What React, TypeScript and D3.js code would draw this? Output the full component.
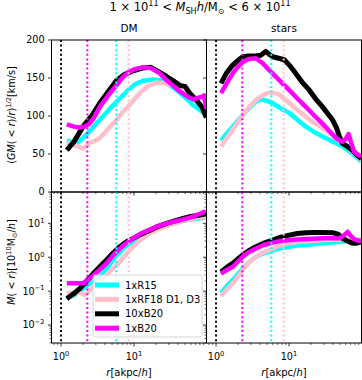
import React from "react";
import * as d3 from "d3";

const W = 362;
const H = 380;
const FONT = "DejaVu Sans, Verdana, sans-serif";

// radii of the dotted reference lines (akpc/h)
const refRadii = [1.0, 2.29, 5.72, 8.45];
const refColors = ["black", "magenta", "cyan", "pink"];

const seriesNames = ["1xR15", "1xRF18 D1, D3", "10xB20", "1xB20"];
const seriesColors = ["cyan", "pink", "black", "magenta"];

// circular velocity, DM  [r, v]
const vcDmR15 = [[1.2, 68], [1.4, 66], [1.65, 64], [2.0, 71], [2.3, 77], [2.8, 86], [3.4, 95], [4.5, 108], [5.8, 119], [7.0, 127], [8.5, 135], [10.5, 142], [13, 146], [18, 148], [23, 147], [28, 143], [35, 137], [43, 130], [55, 121], [65, 114], [80, 108], [98, 101]];
const vcDmRF18 = [[1.2, 65], [1.5, 62], [1.8, 59], [2.0, 57], [2.2, 60], [2.5, 65], [3.0, 68], [3.4, 71], [4.5, 84], [5.8, 95], [7.0, 105], [8.8, 115], [10.5, 124], [12.5, 132], [16, 140], [20, 144], [26, 143], [34, 140], [43, 135], [53, 130], [65, 123], [80, 116], [98, 106]];
const vcDmB20x10 = [[1.2, 55], [1.5, 66], [2.0, 86], [2.7, 102], [3.4, 117], [4.5, 133], [5.8, 147], [7.5, 155], [9.5, 159], [13, 163], [17, 164], [22, 158], [28, 152], [35, 146], [43, 140], [50, 139], [58, 130], [70, 122], [85, 112], [98, 98]];
const vcDmB20 = [[1.2, 89], [1.5, 86], [1.8, 85], [2.1, 86], [2.4, 89], [2.8, 97], [3.4, 112], [4.5, 128], [5.8, 141], [7.0, 151], [8.5, 158], [10.5, 162], [13, 164], [17, 163], [22, 157], [28, 147], [35, 139], [43, 132], [55, 125], [65, 122], [75, 124], [85, 125], [91, 127], [98, 110]];

// circular velocity, stars
const vcStR15 = [[1.17, 68], [1.4, 77], [1.69, 86], [2.0, 94], [2.32, 101], [2.8, 110], [3.5, 119], [4.1, 122], [5.0, 120], [6.0, 117], [7.4, 111], [10.1, 104], [13, 95], [17, 86], [22, 79], [28.8, 73], [40, 66], [54, 60], [75, 50], [98, 40]];
const vcStRF18 = [[1.17, 60], [1.4, 71], [1.69, 82], [2.0, 92], [2.32, 101], [2.8, 111], [3.5, 121], [4.3, 127], [5.4, 131], [6.4, 130], [7.4, 128], [10.1, 117], [13, 108], [17, 99], [22, 91], [28.8, 84], [40, 74], [54, 64], [75, 53], [98, 42]];
const vcStB20x10 = [[1.17, 143], [1.4, 157], [1.69, 167], [2.0, 173], [2.32, 178], [2.8, 179], [3.5, 179], [4.1, 180], [4.8, 185], [5.4, 181], [6.0, 178], [7.2, 176], [8.6, 174], [10.3, 166], [12.4, 156], [15, 145], [19, 134], [23, 123], [28.8, 112], [34, 103], [39.5, 95], [45, 84], [49, 73], [54, 64], [63, 60], [74, 55], [85, 49], [98, 44]];
const vcStB20 = [[1.17, 130], [1.4, 143], [1.69, 156], [2.0, 165], [2.32, 171], [2.8, 175], [3.5, 176], [4.3, 170], [5.4, 160], [7.4, 147], [10.1, 134], [13, 123], [17, 112], [22, 101], [28.8, 90], [36, 80], [44, 71], [54, 66], [60, 70], [65.6, 76], [72, 63], [78, 53], [88, 49], [98, 47]];

// enclosed mass, DM
const mDmR15 = [[1.2, 0.08], [1.5, 0.075], [1.8, 0.1], [2.3, 0.15], [2.8, 0.2], [3.42, 0.27], [4.5, 0.55], [5.8, 1.16], [7.5, 2.0], [9.75, 2.9], [12.5, 4.1], [16.6, 5.6], [21, 7.2], [28, 8.9], [37, 10.5], [47, 11.9], [60, 13], [80, 14], [98, 15]];
const mDmRF18 = [[1.2, 0.087], [1.5, 0.09], [1.82, 0.09], [2.13, 0.077], [2.4, 0.1], [2.77, 0.13], [3.4, 0.19], [4.2, 0.3], [5.2, 0.47], [6.4, 0.74], [8, 1.3], [9.75, 2.05], [12.5, 3.3], [16.6, 5.07], [21, 6.5], [28, 8.3], [37, 10], [47, 11.9], [60, 13.3], [80, 15], [98, 16]];
const mDmB20x10 = [[1.2, 0.06], [1.5, 0.085], [1.82, 0.12], [2.2, 0.19], [2.77, 0.33], [3.4, 0.52], [4.2, 0.83], [5.2, 1.35], [6.4, 2.05], [8, 2.9], [9.75, 3.6], [12.5, 4.8], [16.6, 6.3], [21, 8], [28, 10], [37, 12], [47, 14], [60, 16], [80, 17.6], [98, 19]];
const mDmB20 = [[1.2, 0.17], [1.6, 0.17], [2.0, 0.17], [2.5, 0.24], [3.2, 0.38], [4.2, 0.66], [5.2, 1.15], [6.4, 1.8], [8, 2.7], [9.75, 3.6], [12.5, 5], [16.6, 6.5], [21, 8.2], [28, 10], [37, 11.5], [47, 13], [60, 15], [75, 18], [91, 22], [98, 20]];

// enclosed mass, stars
const mStR15 = [[1.17, 0.09], [1.4, 0.14], [1.69, 0.21], [2.0, 0.32], [2.32, 0.47], [2.8, 0.7], [3.53, 1.03], [4.5, 1.3], [5.97, 1.6], [7.7, 1.85], [10.1, 2.05], [13, 2.2], [17.1, 2.3], [28.8, 2.6], [54, 2.9], [98, 2.9]];
const mStRF18 = [[1.17, 0.072], [1.4, 0.11], [1.69, 0.17], [2.0, 0.27], [2.32, 0.42], [2.8, 0.7], [3.53, 1.03], [4.5, 1.4], [5.97, 1.8], [7.7, 2.3], [10.1, 2.6], [13, 2.8], [17.1, 2.9], [28.8, 3.2], [54, 3.35], [98, 3.35]];
const mStB20x10 = [[1.17, 0.37], [1.4, 0.5], [1.69, 0.66], [2.0, 0.9], [2.32, 1.16], [2.8, 1.55], [3.53, 2.05], [4.5, 2.6], [5.97, 3.2], [7.7, 3.9], [10.1, 4.5], [13, 5.0], [17.1, 5.3], [22, 5.4], [28.8, 5.4], [39.5, 5.3], [47, 4.8], [54, 3.6], [63, 3.0], [74, 2.6], [85, 2.6], [98, 2.9]];
const mStB20 = [[1.17, 0.33], [1.4, 0.42], [1.69, 0.52], [2.0, 0.75], [2.32, 1.03], [2.8, 1.4], [3.53, 1.8], [4.5, 2.3], [5.97, 2.7], [7.7, 3.0], [10.1, 3.2], [13, 3.35], [17.1, 3.45], [28.8, 3.6], [49, 3.6], [55, 4.2], [63.5, 5.6], [70, 4.3], [78, 3.4], [88, 3.1], [98, 3.0]];

const xMajor = [1, 10];
const xExp = ["0", "1"];
const xMinor = [0.8, 0.9, 2, 3, 4, 5, 6, 7, 8, 9, 20, 30, 40, 50, 60, 70, 80, 90];
const vTicks = [0, 50, 100, 150, 200];
const mMajor = [0.01, 0.1, 1, 10];
const mExp = ["\u22122", "\u22121", "0", "1"];
const mMinor = [0.003, 0.004, 0.005, 0.006, 0.007, 0.008, 0.009, 0.02, 0.03, 0.04, 0.05, 0.06, 0.07, 0.08, 0.09, 0.2, 0.3, 0.4, 0.5, 0.6, 0.7, 0.8, 0.9, 2, 3, 4, 5, 6, 7, 8, 9, 20, 30, 40, 50, 60, 70, 80];

const colX = [[51.5, 206.5], [206.5, 361.5]];
const topY = [40, 192];
const botY = [192, 343];

const xScales = colX.map((r) => d3.scaleLog().domain([0.74, 98.5]).range(r));
const yTop = d3.scaleLinear().domain([0, 200]).range([topY[1], topY[0]]);
const yBot = d3.scaleLog().domain([0.00295, 84]).range([botY[1], botY[0]]);

const panels = [
  { col: 0, row: 0, data: [vcDmR15, vcDmRF18, vcDmB20x10, vcDmB20] },
  { col: 1, row: 0, data: [vcStR15, vcStRF18, vcStB20x10, vcStB20] },
  { col: 0, row: 1, data: [mDmR15, mDmRF18, mDmB20x10, mDmB20] },
  { col: 1, row: 1, data: [mStR15, mStRF18, mStB20x10, mStB20] },
];

// rich text: segments of [text, kind] where kind: "" normal, "i" italic, "^" sup, "_" sub
type Seg = [string, string?];
const Rich = ({ segs, size }: { segs: Seg[]; size: number }) => {
  let shift = 0;
  return (
    <>
      {segs.map(([t, k = ""], i) => {
        const target = k === "^" ? -0.42 * size : k === "_" ? 0.25 * size : 0;
        const dy = target - shift;
        shift = target;
        return (
          <tspan
            key={i}
            dy={dy || undefined}
            fontSize={k === "^" || k === "_" ? size * 0.7 : undefined}
            fontStyle={k === "i" ? "italic" : undefined}
          >
            {t}
          </tspan>
        );
      })}
    </>
  );
};

const Panel = ({ col, row, data }: any) => {
  const x = xScales[col];
  const y = row === 0 ? yTop : yBot;
  const [x0, x1] = colX[col];
  const [y0, y1] = row === 0 ? topY : botY;
  const line = d3
    .line<number[]>()
    .x((d) => x(d[0]))
    .y((d) => y(d[1]));
  const clipId = `clip-${col}-${row}`;
  return (
    <g>
      <clipPath id={clipId}>
        <rect x={x0} y={y0} width={x1 - x0} height={y1 - y0} />
      </clipPath>
      <g clipPath={`url(#${clipId})`}>
        {data.map((d: number[][], i: number) => (
          <path
            key={i}
            d={line(d) || ""}
            fill="none"
            stroke={seriesColors[i]}
            strokeWidth={i === 2 ? 5 : 4.5}
            strokeLinejoin="round"
          />
        ))}
        {refRadii.map((r, i) => (
          <line
            key={"ref" + i}
            x1={x(r)}
            x2={x(r)}
            y1={y0}
            y2={y1}
            stroke={refColors[i]}
            strokeWidth={2}
            strokeDasharray="2,2.6"
          />
        ))}
      </g>
      <rect x={x0} y={y0} width={x1 - x0} height={y1 - y0} fill="none" stroke="black" strokeWidth={1} />
      {xMajor.map((t) => (
        <line key={"xM" + t} x1={x(t)} x2={x(t)} y1={y1} y2={y1 + 3.5} stroke="black" strokeWidth={0.8} />
      ))}
      {xMinor.map((t) => (
        <line key={"xm" + t} x1={x(t)} x2={x(t)} y1={y1} y2={y1 + 2} stroke="black" strokeWidth={0.6} />
      ))}
      {(row === 0 ? vTicks : mMajor).map((t) => (
        <line key={"yM" + t} x1={x0 - 3.5} x2={x0} y1={y(t)} y2={y(t)} stroke="black" strokeWidth={0.8} />
      ))}
      {row === 1 &&
        mMinor.map((t) => (
          <line key={"ym" + t} x1={x0 - 2} x2={x0} y1={y(t)} y2={y(t)} stroke="black" strokeWidth={0.6} />
        ))}
      {col === 0 && row === 0 &&
        vTicks.map((t) => (
          <text key={"yl" + t} x={x0 - 7} y={y(t) + 3.4} textAnchor="end" fontSize={9.6}>
            {t}
          </text>
        ))}
      {col === 0 && row === 1 &&
        mMajor.map((t, i) => (
          <text key={"yl" + t} x={x0 - 7} y={y(t) + 3.4} textAnchor="end" fontSize={9.6}>
            <Rich size={9.6} segs={[["10"], [mExp[i], "^"]]} />
          </text>
        ))}
      {row === 1 &&
        xMajor.map((t, i) => (
          <text key={"xl" + t} x={x(t)} y={360} textAnchor="middle" fontSize={9.6}>
            <Rich size={9.6} segs={[["10"], [xExp[i], "^"]]} />
          </text>
        ))}
      {row === 1 && (
        <text x={(x0 + x1) / 2} y={376} textAnchor="middle" fontSize={10}>
          <Rich size={10} segs={[["r", "i"], ["[akpc/"], ["h", "i"], ["]"]]} />
        </text>
      )}
    </g>
  );
};

const Legend = () => (
  <g>
    <rect x={93} y={275} width={109} height={62} rx={2.5} fill="white" fillOpacity={0.8} stroke="#cccccc" strokeWidth={0.8} />
    {seriesNames.map((name, i) => {
      const cy = 285 + i * 14.4;
      return (
        <g key={name}>
          <line x1={95} x2={119} y1={cy} y2={cy} stroke={seriesColors[i]} strokeWidth={5} />
          <text x={125} y={cy + 3.6} fontSize={10}>
            {name}
          </text>
        </g>
      );
    })}
  </g>
);

export default function App() {
  return (
    <svg
      width={W}
      height={H}
      viewBox={`0 0 ${W} ${H}`}
      style={{ position: "absolute", left: 0, top: 0, background: "white" }}
      fontFamily={FONT}
    >
      <rect x={0} y={0} width={W} height={H} fill="white" />
      {panels.map((p) => (
        <Panel key={`${p.col}-${p.row}`} {...p} />
      ))}
      <Legend />
      <text x={200} y={11} textAnchor="middle" fontSize={11.5}>
        <Rich
          size={11.5}
          segs={[["1 × 10"], ["11", "^"], [" < "], ["M", "i"], ["SH", "_"], ["h", "i"], ["/M"], ["⊙", "_"], [" < 6 × 10"], ["11", "^"]]}
        />
      </text>
      <text x={129} y={32} textAnchor="middle" fontSize={10.5}>
        DM
      </text>
      <text x={284} y={32} textAnchor="middle" fontSize={10.5}>
        stars
      </text>
      <text transform="translate(15,115) rotate(-90)" textAnchor="middle" fontSize={9.6}>
        <Rich
          size={9.6}
          segs={[["("], ["GM", "i"], ["( < "], ["r", "i"], [")/"], ["r", "i"], [")"], ["1/2", "^"], ["[km/s]"]]}
        />
      </text>
      <text transform="translate(15,262) rotate(-90)" textAnchor="middle" fontSize={9.6}>
        <Rich
          size={9.6}
          segs={[["M", "i"], ["( < "], ["r", "i"], [")[10"], ["10", "^"], ["M"], ["⊙", "_"], ["/"], ["h", "i"], ["]"]]}
        />
      </text>
    </svg>
  );
}
